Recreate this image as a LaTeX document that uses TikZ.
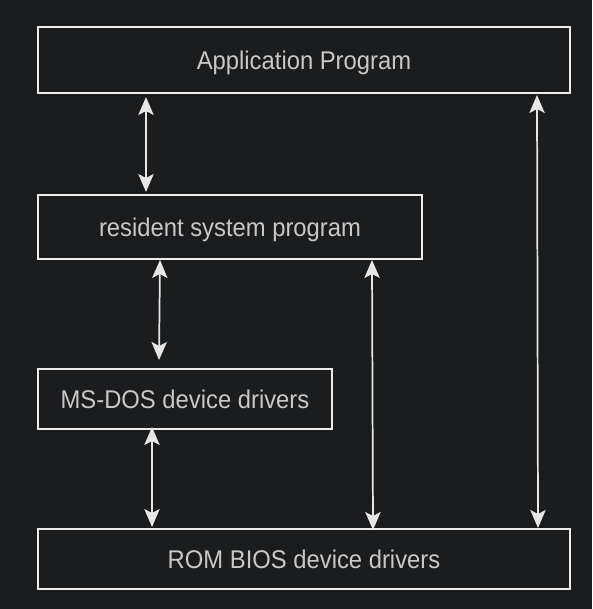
\documentclass[tikz,border=0pt]{standalone}
\usepackage{fontspec}
\setmainfont[FakeStretch=0.93]{Liberation Sans}
\usetikzlibrary{arrows.meta}
\definecolor{bgc}{RGB}{27,28,30}
\definecolor{strokec}{RGB}{236,236,236}
\definecolor{textc}{RGB}{200,200,200}
\definecolor{arrc}{RGB}{230,230,230}
\tikzset{
  box/.style={draw=strokec, line width=1.5pt, rectangle, inner sep=0pt,
    text=textc, font=\fontsize{19.2}{22}\selectfont,
    text height=13.8pt, text depth=0pt},
  tipa/.tip={Stealth[length=13.5pt,width=11.5pt,inset=3pt]},
  link/.style={draw=arrc, line width=1.3pt, tipa-tipa}
}
\begin{document}
\begin{tikzpicture}[x=0.75pt,y=-0.75pt]
\fill[bgc] (0,0) rectangle (592,609);
\useasboundingbox (0,0) rectangle (592,609);
\node[box, minimum width=399pt, minimum height=49.5pt] (app) at (304,60) {Application Program};
\node[box, minimum width=288pt, minimum height=48pt] (res) at (230,227) {resident system program};
\node[box, minimum width=220.5pt, minimum height=45pt] (msdos) at (185,399) {MS-DOS device drivers};
\node[box, minimum width=399pt, minimum height=45pt] (rom) at (304,559) {ROM BIOS device drivers};
\coordinate (a1t) at (146,97);
\coordinate (a1b) at (146,192);
\coordinate (a2t) at (160,260);
\coordinate (a2b) at (159,360);
\coordinate (a3t) at (152,427);
\coordinate (a3b) at (152,527);
\coordinate (a4t) at (372,260);
\coordinate (a4b) at (373,530);
\coordinate (a5t) at (537,95);
\coordinate (a5b) at (538,528);
\draw[link] (a1t) -- (a1b);
\draw[link] (a2t) -- (a2b);
\draw[link] (a3t) -- (a3b);
\draw[link] (a4t) -- (a4b);
\draw[link] (a5t) -- (a5b);
\end{tikzpicture}
\end{document}
